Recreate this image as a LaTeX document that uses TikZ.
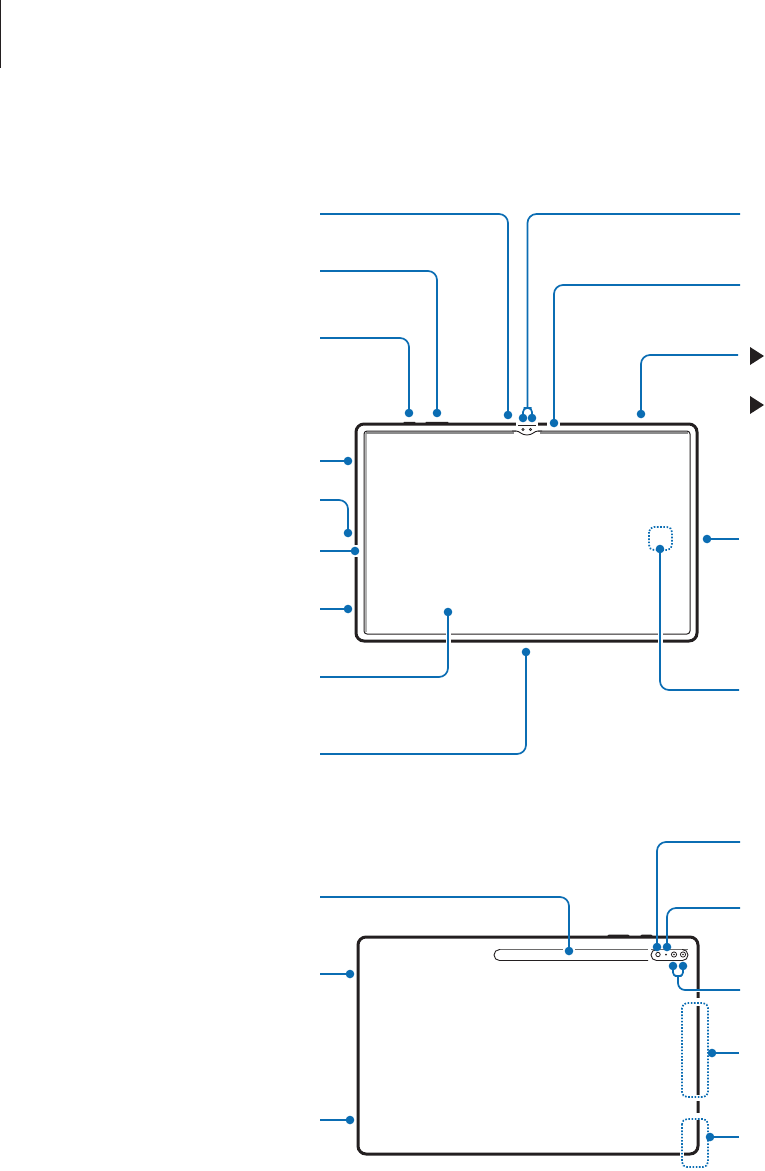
\documentclass[tikz,border=0pt]{standalone}
\usetikzlibrary{calc}
\definecolor{lead}{HTML}{0B6DB3}
\definecolor{ink}{HTML}{231F20}
\tikzset{
  x=1pt,y=-1pt,
  body/.style={draw=ink,line width=3pt,rounded corners=8pt},
  screen/.style={draw=ink,line width=1pt,rounded corners=3pt},
  leader/.style={draw=lead,line width=1.7pt,rounded corners=9pt},
  dot/.style={circle,fill=lead,inner sep=0pt,minimum size=8.6pt},
  halo/.style={draw=white,line width=5pt},
  dotbox/.style={draw=lead,line width=1.7pt,dash pattern=on 1.6pt off 1.6pt,rounded corners=5pt},
  thin part/.style={draw=ink,line width=0.9pt},
  pointer/.style={fill=ink}
}
\begin{document}
\begin{tikzpicture}
\useasboundingbox (0,0) rectangle (764,1171);
\fill[ink] (0,0) rectangle (1.2,68);

% ---------- front view ----------
\draw[gray!60,line width=1.6pt] (366,632) -- (366,433);
\draw[gray!90,line width=2pt] (366,433) -- (514,433) (540,433) -- (688,433);
\draw[screen] (364,431) rectangle (690,634);
\draw[body] (356,424) rectangle (697,641);
\fill[ink] (403,424) -- (404,421.8) -- (415,421.8) -- (416,424) -- cycle;
\fill[ink] (425,424) -- (426,421.8) -- (448,421.8) -- (449,424) -- cycle;
% notch
\fill[white] (516,420) rectangle (538,436);
\fill[white] (547,420) rectangle (560,426);
\draw[thin part] (512,431) -- (516,431) .. controls (520,431) and (521,435) .. (527,435) .. controls (533,435) and (534,431) .. (538,431) -- (542,431);
\draw[ink,line width=0.9pt] (518,425) -- (536,425);
\draw[ink,line width=0.7pt] (523,429.5) circle (1.2) (530.5,429.5) circle (1.2);
\fill[pointer] (750,347) -- (764,356) -- (750,365) -- cycle;
\fill[pointer] (750,396) -- (764,405) -- (750,414) -- cycle;

% fingerprint area
\draw[dotbox] (649,527) rectangle (672,550);

% halos
\fill[white] (351,545) rectangle (360,557);
\draw[halo] (448,628) -- (448,646);
\draw[halo] (660,628) -- (660,646);

% free ends, front
\coordinate (a1) at (320,214);
\coordinate (a2) at (320,271);
\coordinate (a3) at (320,338);
\coordinate (a4) at (320,461);
\coordinate (a5) at (320,500);
\coordinate (a6) at (320,551);
\coordinate (a7) at (320,609);
\coordinate (a8) at (320,677);
\coordinate (a9) at (320,754);
\coordinate (b1) at (740,214);
\coordinate (b2) at (740,285);
\coordinate (b3) at (738,355);
\coordinate (b4) at (739,539);
\coordinate (b5) at (739,690);
\coordinate (fork) at (527.5,408);

\node[dot] (d1) at (409,413) {};
\node[dot] (d2) at (437,413) {};
\node[dot] (d3) at (508,415) {};
\node[dot] (d4) at (523,418) {};
\node[dot] (d5) at (532,418) {};
\node[dot] (d6) at (554,423) {};
\node[dot] (d7) at (641,414) {};
\node[dot] (d8) at (707,539) {};
\node[dot] (d9) at (660,549) {};
\node[dot] (d10) at (348,461) {};
\node[dot] (d11) at (348,533) {};
\node[dot] (d12) at (355,551) {};
\node[dot] (d13) at (348,609) {};
\node[dot] (d14) at (448,612) {};
\node[dot] (d15) at (526,652) {};

\draw[leader] (a1) -| (d3.center);
\draw[leader] (a2) -| (d2.center);
\draw[leader] (a3) -| (d1.center);
\draw[leader] (a4) -- (d10.center);
\draw[leader] (a5) -| (d11.center);
\draw[leader] (a6) -- (d12.center);
\draw[leader] (a7) -- (d13.center);
\draw[leader] (a8) -| (d14.center);
\draw[leader] (a9) -| (d15.center);
\draw[leader] (b1) -| (fork);
\draw[leader,rounded corners=4pt] (d4.center) |- (fork) -| (d5.center);
\draw[leader] (b2) -| (d6.center);
\draw[leader] (b3) -| (d7.center);
\draw[leader] (b4) -- (d8.center);
\draw[leader] (b5) -| (d9.center);

% ---------- back view ----------
\fill[ink] (606,937) -- (609,934.5) -- (628,934.5) -- (631,937) -- cycle;
\fill[ink] (639,937) -- (642,934.5) -- (651,934.5) -- (654,937) -- cycle;
\draw[body] (358,937) rectangle (698,1154);
% pen slot: grey upper edge, dark lower edge
\draw[gray!80!ink,line width=1.2pt] (499,949.5) -- (648,949.5);
\draw[thin part,rounded corners=5.5pt] (648,960.5) -- (494,960.5) -- (494,949.5) -- (500,949.5);
\fill[white] (563,944) rectangle (575,956);
\draw[gray!80!ink,line width=1.2pt] (651,949.5) -- (688,949.5);
\draw[thin part,rounded corners=5.5pt] (656,949.5) -- (651,949.5) -- (651,960.5) -- (688,960.5) -- (688,949.5) -- (682,949.5);
\draw[ink,line width=0.8pt] (658,954.5) circle (2.2);
\fill[ink] (666,954.5) circle (1);
\draw[ink,line width=0.8pt] (674,954.5) circle (2.6) (683,954.5) circle (2.6);
\fill[ink] (674,954.5) circle (0.8) (683,954.5) circle (0.8);

% halos around dotted areas
\draw[white,line width=3.4pt] (698,998) -- (698,1006) (698,1095) -- (698,1101) (698,1113) -- (698,1120);
\draw[white,line width=3.4pt] (680,1154) -- (684,1154);
\draw[dotbox] (682,1003) rectangle (708,1097);
\draw[dotbox] (682,1119) rectangle (708,1167);

\coordinate (c1) at (320,897);
\coordinate (c2) at (320,974);
\coordinate (c3) at (320,1120);
\coordinate (e1) at (740,842);
\coordinate (e2) at (740,908);
\coordinate (e3) at (740,990);
\coordinate (e4) at (739,1053);
\coordinate (e5) at (739,1137);
\coordinate (stem) at (678,976);

\node[dot] (k1) at (569,951) {};
\node[dot] (k2) at (350,974) {};
\node[dot] (k3) at (350,1120) {};
\node[dot] (k4) at (657,947) {};
\node[dot] (k5) at (667,947) {};
\node[dot] (k6) at (673,966) {};
\node[dot] (k7) at (683,966) {};
\node[dot] (k8) at (712,1053) {};
\node[dot] (k9) at (710,1137) {};

\draw[leader] (c1) -| (k1.center);
\draw[leader] (c2) -- (k2.center);
\draw[leader] (c3) -- (k3.center);
\draw[leader] (e1) -| (k4.center);
\draw[leader] (e2) -| (k5.center);
\draw[leader,rounded corners=3.5pt] (k6.center) |- (stem) -| (k7.center);
\draw[halo,line width=3pt] (695,990) -- (701,990);
\draw[leader,rounded corners=7pt] (stem) |- (e3);
\draw[leader] (e4) -- (k8.center);
\draw[leader] (e5) -- (k9.center);
\end{tikzpicture}
\end{document}
